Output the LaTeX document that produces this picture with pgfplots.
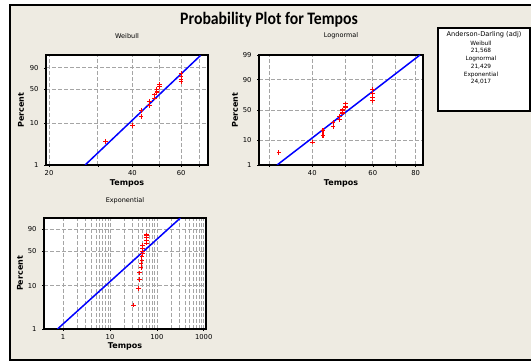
\documentclass[border=0pt]{standalone}
\usepackage{fontspec}
\setmainfont{DejaVu Sans}
\newfontfamily\titlefont{Carlito}
\usepackage{graphicx}
\usepackage{pgfplots}
\pgfplotsset{compat=1.18}
\usepackage{pgfplotstable}
\definecolor{bgc}{RGB}{238,235,226}
\definecolor{gridc}{RGB}{165,165,165}

% observed data: Tempos and plotted percent (median ranks)
\pgfplotstableread{
x p
32 3.61
40 8.76
43 13.92
43 19.07
46 24.23
46 29.38
48 34.54
48 39.69
49 44.85
49 50.00
50 55.15
50 60.31
60 65.46
60 70.62
60 75.77
60 80.93
}\tempos
\pgfplotstableread{
x p
27 1
70.5 99
}\weibfit
\pgfplotstableread{
x p
31.6 1
82.3 99
}\lognfit
\pgfplotstableread{
x p
0.76 1
318 98.47
}\expfit

\pgfplotsset{
  /pgf/declare function={
    weib(\pp)=ln(-ln(1-\pp/100));
    probit(\pp)=4.91*((\pp/100)^0.14-(1-\pp/100)^0.14);
  },
  every axis/.append style={
    scale only axis,
    axis background/.style={fill=white},
    axis line style={black,line width=1.3pt},
    tick align=outside,
    major tick length=2pt, minor tick length=0pt,
    tick style={black,line width=0.5pt},
    tick pos=left,
    grid style={gridc,line width=0.7pt,dash pattern=on 3.5pt off 2.5pt},
    xmajorgrids, ymajorgrids,
    ticklabel style={font=\fontsize{6.8}{8}\selectfont,text=black},
    yticklabel style={xshift=-2pt},
    title style={font=\fontsize{6.5}{8}\selectfont},
    xlabel={Tempos}, ylabel={Percent},
    label style={font=\bfseries\fontsize{8}{9}\selectfont},
    xlabel style={at={(axis description cs:0.5,-0.165)},anchor=center},
    ylabel style={at={(axis description cs:-0.155,0.5)},anchor=center},
  },
}

\begin{document}
\begin{tikzpicture}[x=1pt,y=1pt]
\fill[white] (0,0) rectangle (531,362);
\fill[bgc] (10,2) rectangle (533,357);
\draw[black,line width=1.1pt] (533,357) -- (10,357) -- (10,2) -- (533,2);
\node[font=\titlefont\bfseries\fontsize{17.5}{20}\selectfont,anchor=base] at (269,337) {\scalebox{0.9}[1]{Probability Plot for Tempos}};

% Weibull
\begin{axis}[xmode=log, at={(46pt,197pt)}, anchor=south west, width=162pt, height=110pt,
  xmin=19.5, xmax=75, ymin=-4.60015, ymax=1.55,
  xtick={20,30,40,50,60,70}, xticklabels={20,,40,,60,},
  ytick={-4.60015,-2.25037,-0.366513,0.834032}, yticklabels={1,10,50,90},
  title={Weibull}, title style={at={(axis description cs:0.5,1.121)},anchor=center}]
\addplot[blue,line width=1.5pt,no marks] table[x=x, y expr={weib(\thisrow{p})}] {\weibfit};
\addplot[only marks,mark=+,red,mark size=2.3pt,mark options={line width=1.1pt}] table[x=x, y expr={weib(\thisrow{p})}] {\tempos};
\end{axis}

% Lognormal
\begin{axis}[xmode=log, at={(259pt,197pt)}, anchor=south west, width=164pt, height=110pt,
  xmin=28, xmax=84, ymin=-2.32635, ymax=2.32635,
  xtick={30,40,50,60,70,80}, xticklabels={,40,,60,,80},
  ytick={-2.32635,-1.28155,0,1.28155,2.32635}, yticklabels={1,10,50,90,99},
  ylabel style={at={(axis description cs:-0.146,0.5)}},
  title={Lognormal}, title style={at={(axis description cs:0.5,1.121)},anchor=center}]
\addplot[blue,line width=1.5pt,no marks] table[x=x, y expr={probit(\thisrow{p})}] {\lognfit};
\addplot[only marks,mark=+,red,mark size=2.3pt,mark options={line width=1.1pt}] table[x=x, y expr={probit(\thisrow{p})}] {\tempos};
\end{axis}

% Exponential
\begin{axis}[xmode=log, at={(44pt,33pt)}, anchor=south west, width=162pt, height=111pt,
  xmin=0.39, xmax=1120, ymin=-4.60015, ymax=1.43,
  xtick={1,10,100,1000}, xticklabels={1,10,100,1000},
  xminorgrids, minor grid style={gridc,line width=0.7pt,dash pattern=on 3.5pt off 2.5pt},
  ytick={-4.60015,-2.25037,-0.366513,0.834032}, yticklabels={1,10,50,90},
  ylabel style={at={(axis description cs:-0.148,0.5)}},
  xlabel style={at={(axis description cs:0.5,-0.16)}},
  title={Exponential}, title style={at={(axis description cs:0.5,1.10)},anchor=center}]
\addplot[blue,line width=1.5pt,no marks] table[x=x, y expr={weib(\thisrow{p})}] {\expfit};
\addplot[only marks,mark=+,red,mark size=2.3pt,mark options={line width=1.1pt}] table[x=x, y expr={weib(\thisrow{p})}] {\tempos};
\end{axis}

% Anderson-Darling box
\draw[black,line width=1.1pt,fill=white] (438,334) rectangle (530,251);
\begin{scope}[every node/.style={font=\fontsize{5.8}{7}\selectfont,anchor=center,inner sep=0pt}]
\node[font=\fontsize{6.6}{7}\selectfont] at (484,327) {Anderson-Darling (adj)};
\node at (481,318.5) {Weibull};
\node at (481,311) {21,568};
\node at (481,302.7) {Lognormal};
\node at (481,295) {21,429};
\node at (481,287) {Exponential};
\node at (481,280) {24,017};
\end{scope}

\pgfresetboundingbox
\path[use as bounding box] (0,0) rectangle (531,362);
\end{tikzpicture}
\end{document}
